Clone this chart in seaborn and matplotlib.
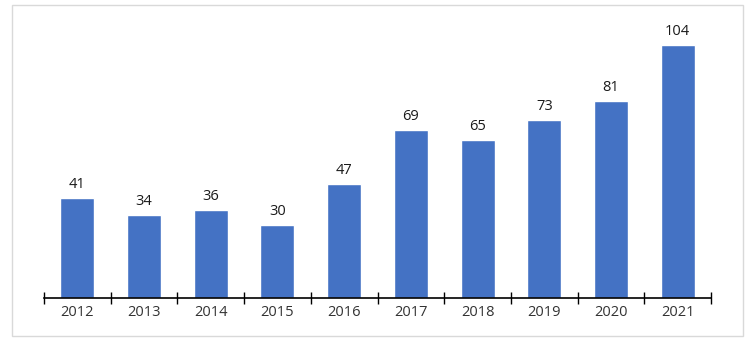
import matplotlib
matplotlib.use("Agg")
import matplotlib.pyplot as plt
import seaborn as sns
import pandas as pd
from matplotlib.patches import Rectangle
from matplotlib.ticker import FixedLocator

years = ["2012", "2013", "2014", "2015", "2016", "2017", "2018", "2019", "2020", "2021"]
values = [41, 34, 36, 30, 47, 69, 65, 73, 81, 104]

df = pd.DataFrame({"year": years, "value": values})

sns.set_style("white")
plt.rcParams['font.family'] = ['Open Sans', 'DejaVu Sans']

fig = plt.figure(figsize=(7.55, 3.42), dpi=100)
ax = fig.add_axes([44/755, 1 - 298/342, (711-44)/755, (298-20)/342])

sns.barplot(data=df, x="year", y="value", color="#4472C4", saturation=1, width=0.51, ax=ax)

for i, v in enumerate(values):
    ax.text(i, v + 2.5, str(v), ha="center", va="bottom", fontsize=10.5, color="#1a1a1a")

ax.set_xlim(-0.5, len(years) - 0.5)
ax.set_ylim(0, 114.3)
ax.set_xlabel("")
ax.set_ylabel("")
ax.set_yticks([])
for s in ["top", "right", "left"]:
    ax.spines[s].set_visible(False)
ax.spines["bottom"].set_color("#000000")
ax.spines["bottom"].set_linewidth(1.2)
ax.tick_params(axis="x", which="major", bottom=False, length=0, pad=5, labelsize=10.5, labelcolor="#333333")
ax.xaxis.set_minor_locator(FixedLocator([i - 0.5 for i in range(len(years) + 1)]))
ax.tick_params(axis="x", which="minor", bottom=True, length=8, direction="inout", width=1.0, color="#000000")

fig.patches.append(Rectangle((12/755, 1 - 336/342), (743-12)/755, (336-5)/342,
                             transform=fig.transFigure, fill=False,
                             edgecolor="#d9d9d9", linewidth=1.0))

fig.savefig("out.png", dpi=100, facecolor="white")
